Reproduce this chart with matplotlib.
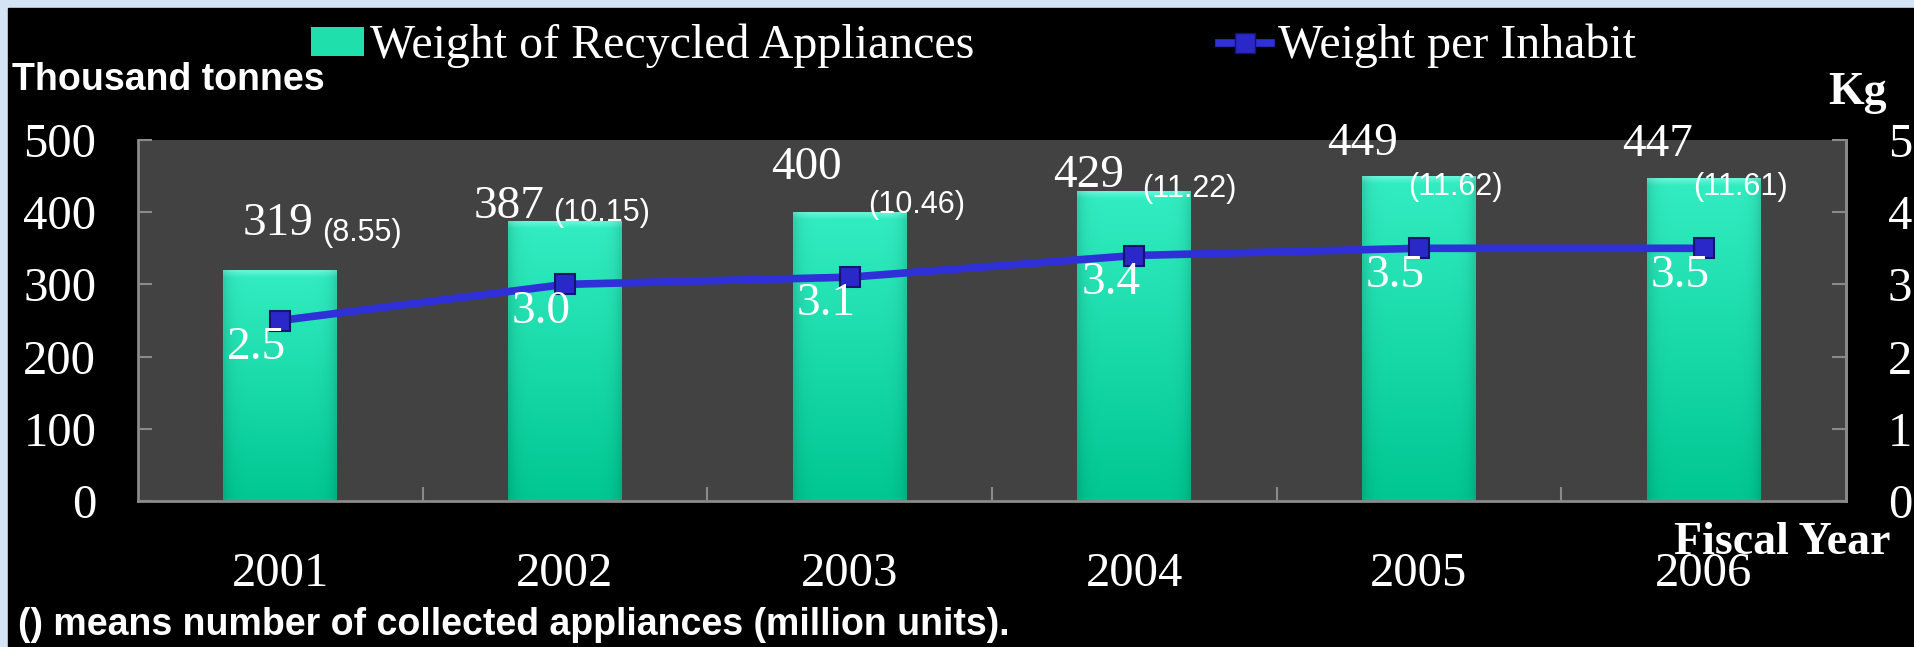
import numpy as np
import matplotlib
matplotlib.use('Agg')
import matplotlib.pyplot as plt
from matplotlib.patches import Patch, Rectangle
from matplotlib.lines import Line2D

# Home appliance recycling, fiscal years 2001-2006
years = ['2001', '2002', '2003', '2004', '2005', '2006']
weight = [319, 387, 400, 429, 449, 447]            # thousand tonnes
units = [8.55, 10.15, 10.46, 11.22, 11.62, 11.61]  # million appliances collected
per_inhabit = [2.5, 3.0, 3.1, 3.4, 3.5, 3.5]       # kg per inhabitant

# hand-placed bar labels, offsets in pixels from the bar top centre
num_dx = [33, -20, -8, -10, -21, -11]
num_dy = [47, 15, 44, 16, 33, 34]
par_dx = [42, -12, 18, 8, -11, -11]
par_dy = [38, 9, 7, 2, -10, -9]

serif = 'Liberation Serif'
sans = 'Liberation Sans'
grid_col = '#8a8a8a'
line_col = '#3030d8'

W, H = 1915, 647
fig = plt.figure(figsize=(W / 100, H / 100), dpi=100, facecolor='#d4e4f4')
fig.add_artist(Rectangle((8 / W, 0), 1, 1 - 8 / H, transform=fig.transFigure,
                         color='black', zorder=0))

ax = fig.add_axes([138 / W, 1 - 501 / H, (1846 - 138) / W, (501 - 140) / H])
ax.set_facecolor('#424242')
x = np.arange(len(years))

bars = ax.bar(x, weight, width=0.4, color='#14d9a3', zorder=2)

# vertical turquoise gradient with a light bevel on top of each bar
top = np.array([0.20, 0.93, 0.76])
bot = np.array([0.00, 0.78, 0.57])
for b in bars:
    h = b.get_height()
    yy = np.linspace(h, 0, 160)
    t = (1 - yy / h)[:, None]
    col = top * (1 - t) + bot * t
    bevel = np.clip(1 - (h - yy) / 9, 0, 1)[:, None]
    col = col * (1 - 0.5 * bevel) + np.array([0.6, 1.0, 0.95]) * 0.5 * bevel
    u = np.linspace(-1, 1, 40)[None, :, None]
    shade = 1 - 0.12 * np.abs(u) ** 8
    img = np.clip(col[:, None, :] * shade, 0, 1)
    ax.imshow(img, extent=(b.get_x(), b.get_x() + b.get_width(), 0, h),
              aspect='auto', interpolation='bilinear', zorder=2.1)

ax.set_xlim(-0.5, 5.5)
ax.set_ylim(0, 500)
ax.set_yticks(range(0, 501, 100))
ax.tick_params(axis='y', direction='in', length=10, width=1.5, color=grid_col,
               labelsize=35, labelcolor='white', pad=30)
ax.set_xticks(x, years)
ax.set_xticks(x[:-1] + 0.5, minor=True)
ax.tick_params(axis='x', which='major', length=0, pad=37, labelsize=35, labelcolor='white')
ax.tick_params(axis='x', which='minor', direction='in', length=10, width=1.5, color=grid_col)
for lab in ax.get_xticklabels() + ax.get_yticklabels():
    lab.set_fontfamily(serif)
ax.spines['top'].set_visible(False)
for s in ['left', 'bottom', 'right']:
    ax.spines[s].set_color(grid_col)
    ax.spines[s].set_linewidth(2)

for xi, w, u, dx1, dy1, dx2, dy2 in zip(x, weight, units, num_dx, num_dy, par_dx, par_dy):
    ax.annotate(str(w), (xi, w), xytext=(dx1, dy1), textcoords='offset pixels',
                ha='right', va='center', fontsize=34, family=serif, color='white', zorder=4)
    ax.annotate(f'({u:.2f})', (xi, w), xytext=(dx2, dy2), textcoords='offset pixels',
                ha='left', va='center', fontsize=22, family=sans, color='white', zorder=4)

ax2 = ax.twinx()
ax2.set_ylim(0, 5)
ax2.plot(x, per_inhabit, color=line_col, lw=5.5, marker='s', ms=14,
         mfc='#2a28c8', mec='#14146e', mew=1.5, zorder=3)
for xi, v in zip(x, per_inhabit):
    ax2.annotate(f'{v:.1f}', (xi, v), xytext=(6, -27), textcoords='offset pixels',
                 ha='right', va='center', fontsize=34, family=serif, color='white')
ax2.set_yticks(range(6))
ax2.tick_params(axis='y', direction='in', length=10, width=1.5, color=grid_col,
                labelsize=35, labelcolor='white', pad=30)
for lab in ax2.get_yticklabels():
    lab.set_fontfamily(serif)
for s in ['left', 'bottom', 'top']:
    ax2.spines[s].set_visible(False)
ax2.spines['right'].set_color(grid_col)
ax2.spines['right'].set_linewidth(2)

handles = [Patch(facecolor='#1fe0ad', edgecolor='none'),
           Line2D([], [], color=line_col, lw=5.5, marker='s', ms=14,
                  mfc='#2a28c8', mec='#14146e')]
fig.legend(handles, ['Weight of Recycled Appliances', 'Weight per Inhabit'],
           loc='center left', bbox_to_anchor=(311 / W, 1 - 46 / H), ncol=2,
           frameon=False, prop={'family': serif, 'size': 34.5}, labelcolor='white',
           handlelength=1.1, handleheight=0.55, handletextpad=0.13,
           columnspacing=5.1, borderpad=0, borderaxespad=0)

fig.text(12 / W, 1 - 80 / H, 'Thousand tonnes', family=sans, weight='bold',
         fontsize=27, color='white', va='center')
fig.text(1887 / W, 1 - 104 / H, 'Kg', family=serif, weight='bold',
         fontsize=33, color='white', ha='right', va='baseline')
fig.text(1891 / W, 1 - 554 / H, 'Fiscal Year', family=serif, weight='bold',
         fontsize=33, color='white', ha='right', va='baseline')
fig.text(18 / W, 1 - 625 / H, '() means number of collected appliances (million units).',
         family=sans, weight='bold', fontsize=27, color='white', va='center')

fig.savefig('out.png', dpi=100, facecolor=fig.get_facecolor())
